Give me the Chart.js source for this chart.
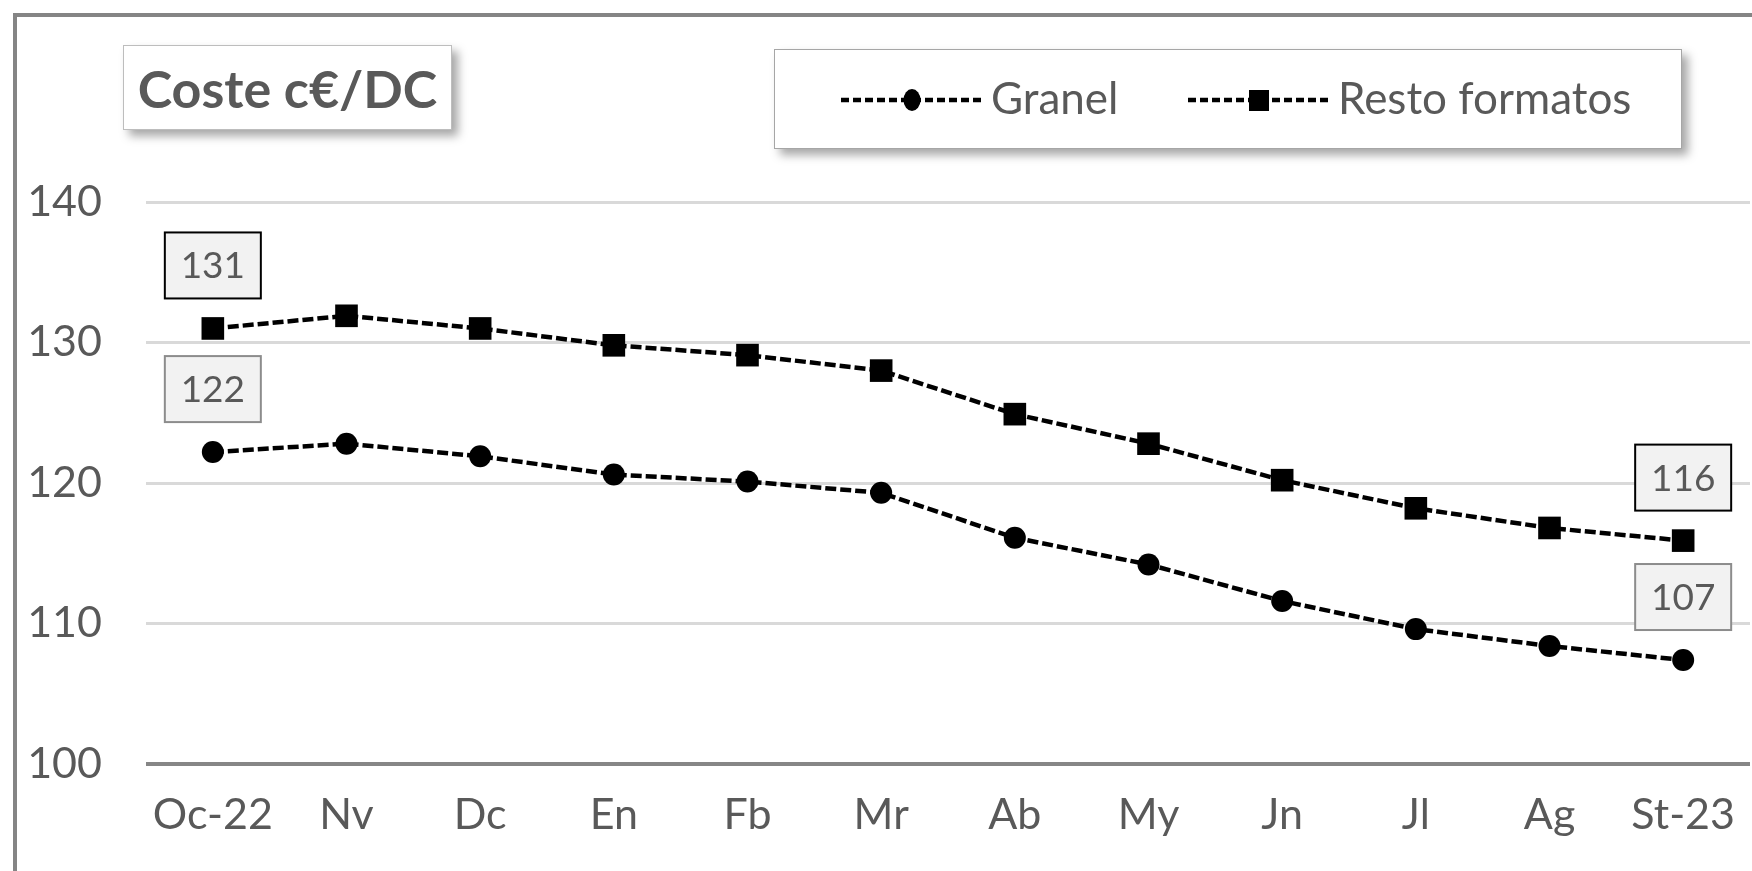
<!DOCTYPE html>
<html>
<head>
<meta charset="utf-8">
<script src="https://cdn.jsdelivr.net/npm/chart.js@4.4.1/dist/chart.umd.min.js"></script>
<style>
  html, body { margin: 0; padding: 0; background: #fff; overflow: hidden; }
  #wrap { position: relative; width: 1752px; height: 871px; }
  canvas { position: absolute; left: 0; top: 0; }
  #frame { position: absolute; left: 13px; top: 13px; width: 1800px; height: 900px;
           border: 4px solid #858585; pointer-events: none; }
  #title { position: absolute; left: 123px; top: 45px; width: 329px; height: 85px;
           box-sizing: border-box; border: 1.5px solid #bdbdbd; background: #fff;
           box-shadow: 6px 6px 9px rgba(0,0,0,0.35);
           font-family: Lato, "Open Sans", sans-serif; font-weight: 700; font-size: 52px;
           color: #595959; display: flex; align-items: center; justify-content: center; }
  #legend { position: absolute; left: 774px; top: 49px; width: 908px; height: 100px;
            box-sizing: border-box; border: 1.5px solid #a6a6a6; background: #fff;
            box-shadow: 6px 6px 9px rgba(0,0,0,0.35);
            font-family: Lato, "Open Sans", sans-serif; font-size: 44px; color: #595959; }
  .lg-sample { position: absolute; top: 30px; }
  .lg-text { position: absolute; top: 21px; line-height: 52px; white-space: nowrap; }
</style>
</head>
<body>
<div id="wrap">
  <canvas id="c" width="1752" height="871"></canvas>
  <div id="title">Coste c€/DC</div>
  <div id="legend">
    <svg class="lg-sample" style="left:66px" width="142" height="40">
      <line x1="0" y1="20" x2="142" y2="20" stroke="#000" stroke-width="4.5" stroke-dasharray="8,4"/>
      <ellipse cx="71" cy="20" rx="8.5" ry="11" fill="#000"/>
    </svg>
    <div class="lg-text" style="left:216px">Granel</div>
    <svg class="lg-sample" style="left:413px" width="143" height="40">
      <line x1="0" y1="20" x2="143" y2="20" stroke="#000" stroke-width="4.5" stroke-dasharray="8,4"/>
      <rect x="61" y="10" width="20" height="21" fill="#000"/>
    </svg>
    <div class="lg-text" style="left:563px">Resto formatos</div>
  </div>
  <div id="frame"></div>
</div>
<script>
const categories = ['Oc-22','Nv','Dc','En','Fb','Mr','Ab','My','Jn','Jl','Ag','St-23'];
const granel = [122.2,122.8,121.9,120.6,120.1,119.3,116.1,114.2,111.6,109.6,108.4,107.4];
const resto  = [131.0,131.9,131.0,129.8,129.1,128.0,124.9,122.8,120.2,118.2,116.8,115.9];
const yTicks = [100,110,120,130,140];
const labelledPoints = [0, 11];

const labelPlugin = {
  id: 'boxLabels',
  afterDatasetsDraw(chart) {
    const ctx = chart.ctx;
    const borders = ['#000000', '#8c8c8c'];
    chart.data.datasets.forEach((ds, di) => {
      const meta = chart.getDatasetMeta(di);
      labelledPoints.forEach(i => {
        const pt = meta.data[i];
        const cx = pt.x, cy = pt.y - 63;
        const w = 96, h = 66;
        ctx.save();
        ctx.fillStyle = '#f2f2f2';
        ctx.fillRect(cx - w/2, cy - h/2, w, h);
        ctx.lineWidth = 2;
        ctx.strokeStyle = borders[di];
        ctx.strokeRect(cx - w/2, cy - h/2, w, h);
        ctx.fillStyle = '#595959';
        ctx.font = '37px Lato, "Open Sans", sans-serif';
        ctx.textAlign = 'center';
        ctx.textBaseline = 'middle';
        ctx.fillText(String(Math.round(ds.data[i])), cx, cy + 1);
        ctx.restore();
      });
    });
  }
};

new Chart(document.getElementById('c'), {
  type: 'line',
  data: {
    labels: categories,
    datasets: [
      { label: 'Resto formatos', data: resto, borderColor: '#000', borderWidth: 4.5,
        borderDash: [11,4], pointStyle: 'rect', pointRadius: 16, pointBackgroundColor: '#000',
        pointBorderWidth: 0, fill: false, tension: 0 },
      { label: 'Granel', data: granel, borderColor: '#000', borderWidth: 4.5,
        borderDash: [11,4], pointStyle: 'circle', pointRadius: 11, pointBackgroundColor: '#000',
        pointBorderWidth: 0, fill: false, tension: 0 }
    ]
  },
  options: {
    responsive: false,
    devicePixelRatio: 1,
    animation: false,
    layout: { autoPadding: false, padding: { left: 0, right: 2, top: 202, bottom: 0 } },
    plugins: { legend: { display: false }, title: { display: false }, tooltip: { enabled: false } },
    scales: {
      x: {
        offset: true,
        grid: { display: false, drawTicks: false },
        border: { display: false },
        ticks: { color: '#595959', font: { family: 'Lato', size: 43 }, padding: 25, maxRotation: 0, autoSkip: false },
        afterFit(s) { s.height = 107; s.paddingLeft = 0; s.paddingRight = 0; }
      },
      y: {
        min: 100, max: 140,
        afterBuildTicks(s) { s.ticks = yTicks.map(v => ({ value: v })); },
        grid: {
          drawTicks: false,
          color: c => (c.tick && c.tick.value === 100) ? '#868686' : '#d9d9d9',
          lineWidth: c => (c.tick && c.tick.value === 100) ? 4 : 3
        },
        border: { display: false },
        ticks: { color: '#595959', font: { family: 'Lato', size: 43 }, padding: 44 },
        afterFit(s) { s.width = 146; s.paddingTop = 0; s.paddingBottom = 0; }
      }
    }
  },
  plugins: [labelPlugin]
});
</script>
</body>
</html>
